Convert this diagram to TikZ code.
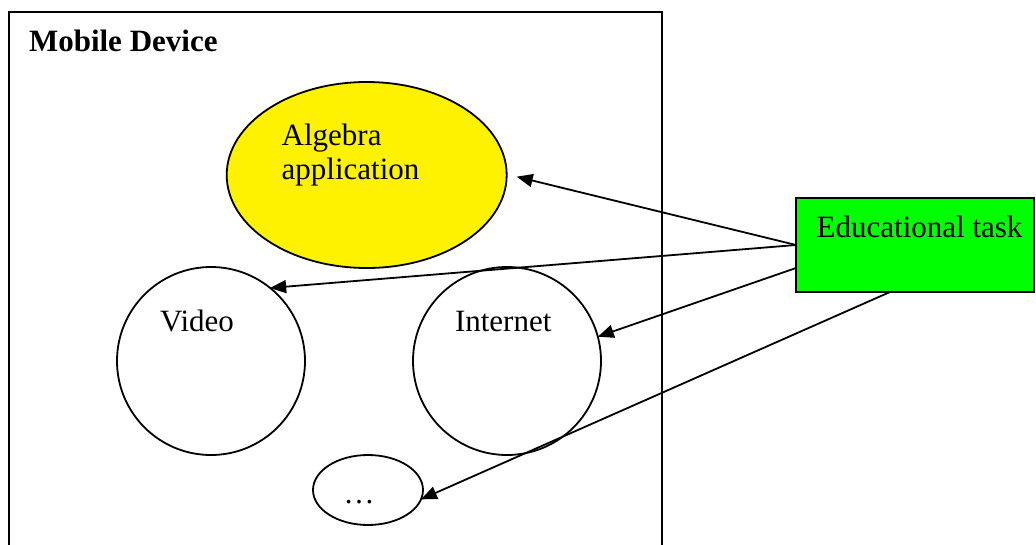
\documentclass[tikz,border=0pt]{standalone}
\usepackage{fontspec}
\setmainfont{Liberation Serif}
\usetikzlibrary{shapes.geometric,arrows.meta,calc}
\begin{document}
\begin{tikzpicture}[x=1pt,y=-1pt,
  every node/.style={inner sep=0pt, outer sep=0pt},
  shapeline/.style={draw=black, line width=1.8pt},
  blob/.style={shapeline, ellipse},
  lbl/.style={font=\fontsize{31}{35}\selectfont, anchor=base west},
  arr/.style={line width=1.8pt, -{Triangle[length=16pt,width=13pt]}}]
\useasboundingbox (0,0) rectangle (1036,545);
\clip (0,0) rectangle (1036,545);
\fill[white] (0,0) rectangle (1036,545);
% container
\node[shapeline, rectangle, anchor=north west, minimum width=653pt, minimum height=600pt] (device) at (9,11.7) {};
\node[lbl, font=\bfseries\fontsize{31}{35}\selectfont] (devlbl) at (29,52) {Mobile Device};
% shapes
\node[blob, fill=yellow, minimum width=280pt, minimum height=186pt] (alg) at (366.7,175) {};
\node[blob, minimum size=188pt] (vid) at (211,361) {};
\node[blob, minimum size=188pt] (int) at (507,361) {};
\node[blob, minimum width=110pt, minimum height=70pt] (dots) at (368,490) {};
\node[shapeline, rectangle, fill=green, anchor=north west, minimum width=238pt, minimum height=94pt] (edu) at (796,198) {};
% texts
\node[lbl] (alg1) at (281.7,145.7) {Algebra};
\node[lbl] (alg2) at (281.7,180) {application};
\node[lbl] (vidlbl) at (160,331.7) {Video};
\node[lbl] (intlbl) at (455,331.7) {Internet};
\node[lbl] (edulbl) at (816.7,238) {Educational task};
\node[lbl, anchor=base] (dotslbl) at (359,503) {…};
% connectors
\draw[arr] (edu.west) -- ([xshift=10pt,yshift=-1.7pt]alg.east);
\draw[arr] (edu.west) -- (vid.51);
\draw[arr] ([yshift=-23pt]edu.west) -- (int.15);
\draw[arr] ([xshift=94pt]edu.south west) -- (dots.-10);
\end{tikzpicture}
\end{document}
